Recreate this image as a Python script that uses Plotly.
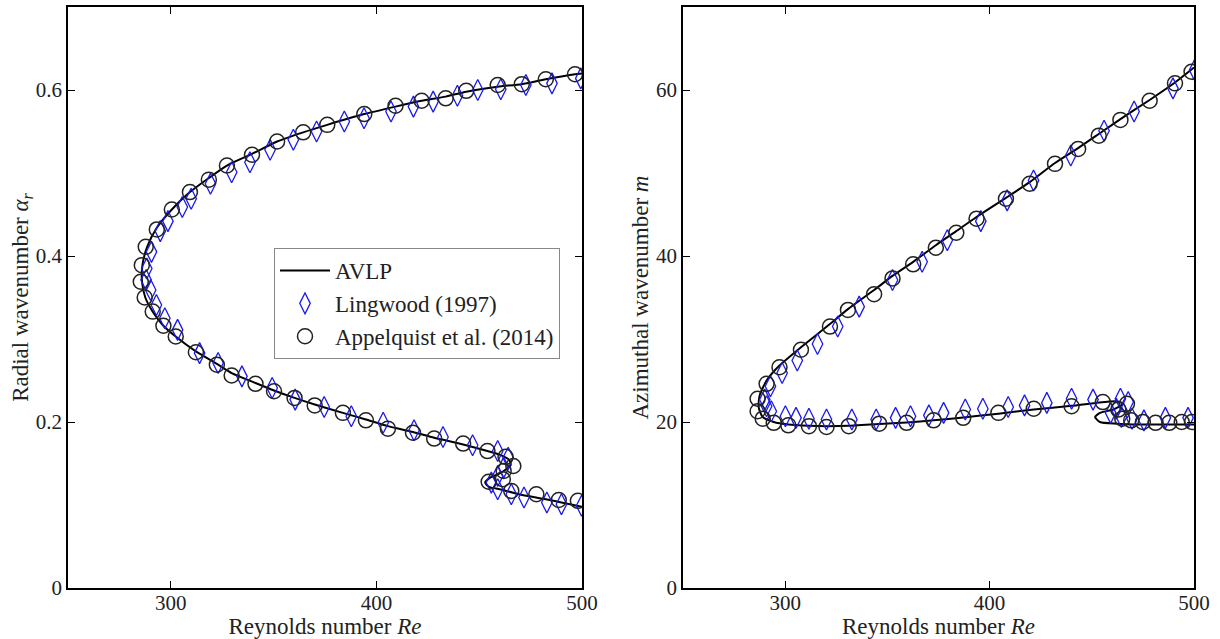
import plotly.graph_objects as go

# ---- Left panel: radial wavenumber alpha_r vs Reynolds number ----
avlp_re_a = [500, 496.6, 482.4, 470.7, 459.0, 443.7, 433.7, 422.0, 409.3, 394.1, 376.1,
             364.4, 351.7, 339.5, 327.3, 318.5, 309.3, 300.5, 293.2, 288.5, 286.2, 286.0,
             287.6, 291.2, 296.4, 302.4, 312.2, 322.4, 329.6, 341.2, 350.2, 360.2, 370.0,
             383.7, 394.9, 405.6, 417.8, 428.1, 442.2, 454.0, 460.5, 464.7, 465.3, 460.0,
             455.3, 452.9, 454.7, 460.0, 469.3, 482.4, 490.0, 500.0]
avlp_alpha = [0.620, 0.619, 0.613, 0.607, 0.604, 0.598, 0.592, 0.587, 0.580, 0.571, 0.558,
              0.549, 0.538, 0.523, 0.509, 0.494, 0.477, 0.456, 0.434, 0.411, 0.389, 0.369,
              0.350, 0.333, 0.316, 0.303, 0.285, 0.270, 0.259, 0.247, 0.238, 0.229, 0.221,
              0.211, 0.203, 0.195, 0.188, 0.181, 0.173, 0.165, 0.160, 0.154, 0.148, 0.138,
              0.133, 0.127, 0.122, 0.119, 0.113, 0.107, 0.103, 0.098]

ling_re_a = [499.4, 485.4, 472.7, 460.5, 449.3, 439.4, 427.6, 418.0, 407.1, 394.0, 384.4,
             370.9, 359.6, 348.3, 338.5, 329.6, 319.3, 309.9, 305.6, 298.6, 294.9, 290.6,
             288.3, 288.0, 290.2, 293.0, 297.1, 303.3, 314.0, 323.0, 334.6, 349.3, 360.5,
             374.6, 387.8, 403.3, 418.3, 432.4, 446.8, 459.0, 464.1, 461.9, 459.0, 455.9,
             459.0, 465.6, 471.8, 482.9, 490.0, 499.8]
ling_alpha = [0.614, 0.608, 0.606, 0.601, 0.600, 0.593, 0.586, 0.580, 0.574, 0.566, 0.562,
              0.550, 0.540, 0.528, 0.513, 0.501, 0.487, 0.469, 0.459, 0.442, 0.430, 0.405,
              0.385, 0.371, 0.359, 0.341, 0.325, 0.311, 0.283, 0.271, 0.255, 0.241, 0.227,
              0.218, 0.207, 0.199, 0.190, 0.182, 0.172, 0.165, 0.157, 0.145, 0.135, 0.127,
              0.119, 0.113, 0.109, 0.103, 0.101, 0.099]

app_re_a = [496.6, 482.4, 470.7, 459.0, 443.7, 433.7, 422.0, 409.3, 394.1, 376.1, 364.4,
            351.7, 339.5, 327.3, 318.5, 309.3, 300.5, 293.2, 287.8, 285.9, 285.4, 287.3,
            291.2, 296.4, 302.4, 312.2, 322.4, 329.6, 341.2, 350.2, 360.2, 370.0, 383.7,
            394.9, 405.6, 417.8, 428.1, 442.2, 454.0, 462.8, 466.6, 461.9, 461.5, 454.6,
            465.6, 477.8, 488.7, 498.0]
app_alpha = [0.619, 0.613, 0.607, 0.606, 0.599, 0.590, 0.587, 0.581, 0.571, 0.558, 0.549,
             0.538, 0.522, 0.509, 0.492, 0.477, 0.456, 0.432, 0.411, 0.389, 0.369, 0.350,
             0.333, 0.316, 0.303, 0.284, 0.269, 0.256, 0.246, 0.237, 0.229, 0.220, 0.211,
             0.202, 0.192, 0.187, 0.180, 0.174, 0.165, 0.158, 0.147, 0.141, 0.131, 0.128,
             0.117, 0.113, 0.106, 0.105]

# ---- Right panel: azimuthal wavenumber m vs Reynolds number ----
avlp_re_m = [500, 490.7, 478.3, 464.0, 453.4, 443.3, 432.0, 419.6, 408.0, 393.6, 383.7,
             373.7, 362.6, 352.5, 343.5, 330.7, 321.9, 307.7, 297.2, 290.9, 287.5, 287.0,
             289.0, 294.4, 301.5, 311.6, 320.2, 331.1, 346.0, 359.4, 372.6, 387.1, 404.3,
             421.6, 440.1, 452.0, 462.2, 465.4, 460.5, 454.0, 451.6, 454.0, 462.2, 473.6,
             500.0]
avlp_m = [62.7, 60.9, 58.8, 56.5, 54.7, 53.0, 51.2, 48.9, 47.0, 44.7, 43.0,
          41.3, 39.3, 37.6, 35.9, 33.6, 31.8, 29.0, 26.8, 25.0, 23.2, 21.8,
          20.6, 20.0, 19.7, 19.55, 19.5, 19.55, 19.75, 19.95, 20.2, 20.55, 21.0,
          21.5, 21.95, 22.3, 22.5, 22.2, 21.5, 21.1, 20.6, 20.0, 19.8, 19.7,
          19.7]

ling_re_m = [500.3, 489.7, 470.7, 456.0, 439.7, 421.5, 408.6, 395.7, 379.3, 367.0, 352.5,
             336.2, 325.7, 315.8, 305.9, 298.5, 292.8, 290.0, 290.9, 293.2, 300.1, 305.3,
             311.6, 320.2, 332.6, 344.5, 354.0, 361.3, 370.3, 377.5, 388.1, 396.7, 409.1,
             417.1, 428.0, 440.1, 450.6, 464.0, 467.8, 462.0, 459.2, 464.5, 469.7, 475.5,
             486.0, 497.1]
ling_m = [62.4, 60.2, 57.4, 55.1, 52.1, 49.1, 46.7, 44.2, 41.9, 39.3, 37.1,
          33.9, 31.5, 29.4, 27.4, 25.9, 24.3, 22.7, 21.9, 21.3, 20.7, 20.5,
          20.4, 20.3, 20.3, 20.3, 20.5, 20.7, 20.8, 21.1, 21.5, 21.6, 21.8,
          22.0, 22.3, 22.8, 22.7, 22.8, 22.4, 21.6, 21.1, 20.6, 20.4, 20.2,
          20.5, 20.5]

app_re_m = [498.8, 490.7, 478.3, 464.0, 453.4, 443.3, 432.0, 419.6, 408.0, 393.6, 383.7,
            373.7, 362.6, 352.5, 343.5, 330.7, 321.9, 307.7, 297.2, 290.9, 286.5, 286.5,
            289.0, 294.4, 301.5, 311.6, 320.2, 331.1, 346.0, 359.4, 372.6, 387.1, 404.3,
            421.6, 440.1, 455.4, 463.0, 467.2, 464.9, 469.3, 475.0, 481.2, 487.9, 494.0,
            499.0]
app_m = [62.2, 60.8, 58.7, 56.4, 54.5, 52.9, 51.1, 48.7, 46.9, 44.5, 42.8,
         41.0, 39.0, 37.3, 35.4, 33.5, 31.5, 28.7, 26.6, 24.6, 22.8, 21.3,
         20.4, 19.9, 19.6, 19.5, 19.4, 19.5, 19.8, 19.9, 20.2, 20.5, 21.1,
         21.6, 21.9, 22.4, 21.5, 22.2, 20.4, 20.2, 20.0, 19.9, 19.9, 20.0,
         20.0]

x_ticks = [300, 400, 500]
alpha_ticks = [0, 0.2, 0.4, 0.6]
alpha_ticktext = ["0", "0.2", "0.4", "0.6"]
m_ticks = [0, 20, 40, 60]
m_ticktext = ["0", "20", "40", "60"]

SERIF = '"Liberation Serif", serif'
BLUE = "#1a1aee"
DARK = "#222222"

fig = go.Figure()


def add_panel(re_line, y_line, re_l, y_l, re_a, y_a, xa, ya, show):
    fig.add_trace(go.Scatter(
        x=re_line, y=y_line, mode="lines", name="AVLP",
        line=dict(color="black", width=2, shape="spline", smoothing=0.6),
        xaxis=xa, yaxis=ya, showlegend=show))
    fig.add_trace(go.Scatter(
        x=re_l, y=y_l, mode="markers", name="Lingwood (1997)",
        marker=dict(symbol="diamond-tall-open", size=15, color=BLUE,
                    line=dict(color=BLUE, width=1.3)),
        xaxis=xa, yaxis=ya, showlegend=show))
    fig.add_trace(go.Scatter(
        x=re_a, y=y_a, mode="markers", name="Appelquist et al. (2014)",
        marker=dict(symbol="circle-open", size=15, color=DARK,
                    line=dict(color=DARK, width=1.5)),
        xaxis=xa, yaxis=ya, showlegend=show))


add_panel(avlp_re_a, avlp_alpha, ling_re_a, ling_alpha, app_re_a, app_alpha, "x", "y", True)
add_panel(avlp_re_m, avlp_m, ling_re_m, ling_m, app_re_m, app_m, "x2", "y2", False)

axis_common = dict(
    showline=True, linecolor="black", linewidth=1.6, mirror="ticks",
    ticks="inside", ticklen=7, tickwidth=1.2, tickcolor="black",
    showgrid=False, zeroline=False, automargin=False,
    tickfont=dict(family=SERIF, size=21, color="#222"),
)
x_axis_extra = dict(ticklabelstandoff=-5)
title_font = dict(family=SERIF, size=23, color="#222")

y_dom = [51 / 639, 632 / 639]

fig.update_layout(
    width=1220, height=639,
    margin=dict(l=0, r=0, t=0, b=0),
    paper_bgcolor="white", plot_bgcolor="white",
    font=dict(family=SERIF, color="#222"),
    xaxis=dict(domain=[68 / 1220, 582 / 1220], range=[250, 500], tickvals=x_ticks,
               title=dict(text="Reynolds number <i>Re</i>", font=title_font, standoff=0),
               anchor="y", **axis_common, **x_axis_extra),
    yaxis=dict(domain=y_dom, range=[0, 0.7], tickvals=alpha_ticks, ticktext=alpha_ticktext,
               title=dict(text="Radial wavenumber <i>α<sub>r</sub></i>", font=title_font, standoff=1),
               anchor="x", **axis_common),
    xaxis2=dict(domain=[683 / 1220, 1194 / 1220], range=[250, 500], tickvals=x_ticks,
                title=dict(text="Reynolds number <i>Re</i>", font=title_font, standoff=0),
                anchor="y2", **axis_common, **x_axis_extra),
    yaxis2=dict(domain=y_dom, range=[0, 70], tickvals=m_ticks, ticktext=m_ticktext,
                title=dict(text="Azimuthal wavenumber <i>m</i>", font=title_font, standoff=1),
                anchor="x2", **axis_common),
    legend=dict(
        x=274 / 1220, y=1 - 248 / 639, xanchor="left", yanchor="top",
        bgcolor="white", bordercolor="#888", borderwidth=1,
        font=dict(family=SERIF, size=23, color="#222"),
        tracegroupgap=0, itemwidth=50,
    ),
    showlegend=True,
)

fig.write_html("out.html")
